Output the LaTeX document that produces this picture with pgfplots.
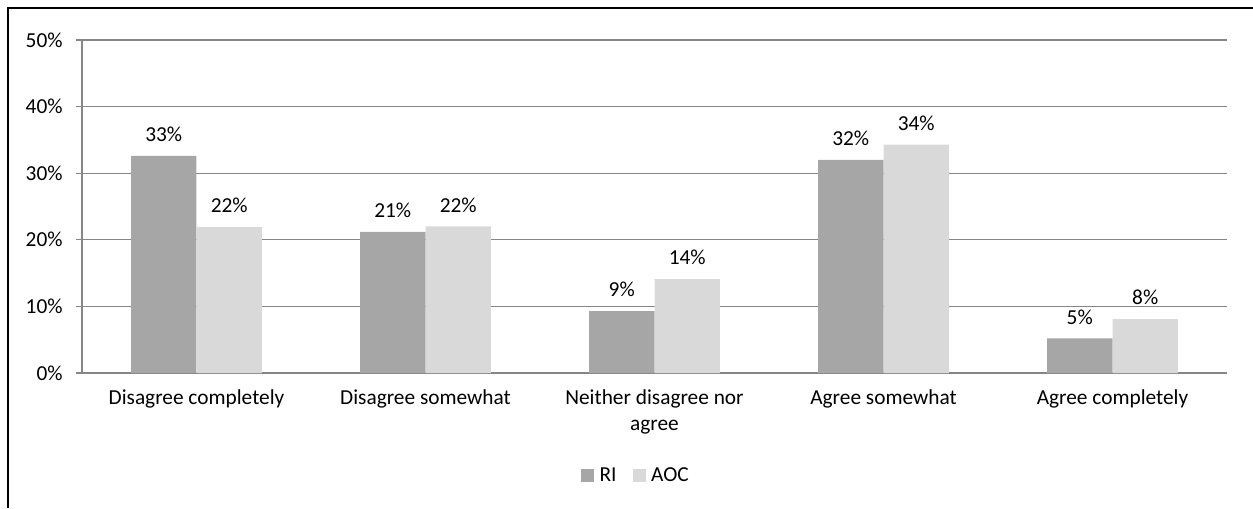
\documentclass[border=0pt]{standalone}
\usepackage{pgfplots}
\pgfplotsset{compat=1.18}
\usepackage{fontspec}
\setmainfont{Carlito}
\definecolor{riCol}{HTML}{A6A6A6}
\definecolor{aocCol}{HTML}{D9D9D9}
\definecolor{gridCol}{HTML}{868686}
\begin{document}
\fontsize{16}{19.5}\selectfont
\begin{tikzpicture}
\path[use as bounding box] (-61.5pt,-101.25pt) rectangle (878.25pt,279.75pt);
\draw[line width=1.5pt,black] (-55.5pt,-101.25pt) -- (-55.5pt,273.75pt) -- (878.25pt,273.75pt);
\begin{axis}[
  at={(0,0)}, anchor=south west,
  scale only axis, width=858.75pt, height=249.75pt,
  xmin=-0.5, xmax=4.5, ymin=0, ymax=50,
  ytick={0,10,...,50},
  yticklabel={\pgfmathprintnumber{\tick}\%},
  /pgf/number format/assume math mode=true,
  axis x line*=bottom, axis y line*=left,
  axis line style={gridCol, line width=0.9pt, -},
  ymajorgrids, grid style={gridCol, line width=0.9pt},
  major tick style={gridCol, line width=0.9pt},
  minor tick style={gridCol, line width=0.9pt},
  tick align=outside,
  major tick length=4.5pt,
  xtick={0,1,2,3,4},
  xticklabels={Disagree completely,Disagree somewhat,{Neither disagree nor\\agree},Agree somewhat,Agree completely},
  x tick style={draw=none},
  minor xtick={-0.5,0.5,1.5,2.5,3.5,4.5},
  minor tick length=4.5pt,
  xticklabel style={align=center, font=\fontsize{16}{19.5}\selectfont, yshift=-2.5pt},
  yticklabel style={font=\fontsize{16}{19.5}\selectfont, xshift=-4.5pt},
  ybar=0pt, bar width=49.1pt,
  point meta=explicit symbolic,
  nodes near coords={\pgfplotspointmeta\%},
  every node near coord/.append style={font=\fontsize{16}{19.5}\selectfont, black, yshift=5pt},
  clip=false,
  legend style={at={(0.484,-0.309)}, anchor=center, draw=none, legend columns=2,
    font=\fontsize{16}{19.5}\selectfont, /tikz/every even column/.append style={column sep=10pt}},
  legend image code/.code={\fill[#1] (0pt,-4.9pt) rectangle (9.75pt,4.85pt);
    \path (12pt,0pt);},
]
\addplot[fill=riCol, draw=none] coordinates {(0,32.6) [33] (1,21.2) [21] (2,9.3) [9] (3,32.0) [32] (4,5.2) [5]};
\addplot[fill=aocCol, draw=none] coordinates {(0,21.9) [22] (1,22.0) [22] (2,14.1) [14] (3,34.3) [34] (4,8.1) [8]};
\legend{RI,AOC}
\end{axis}
\end{tikzpicture}
\end{document}
